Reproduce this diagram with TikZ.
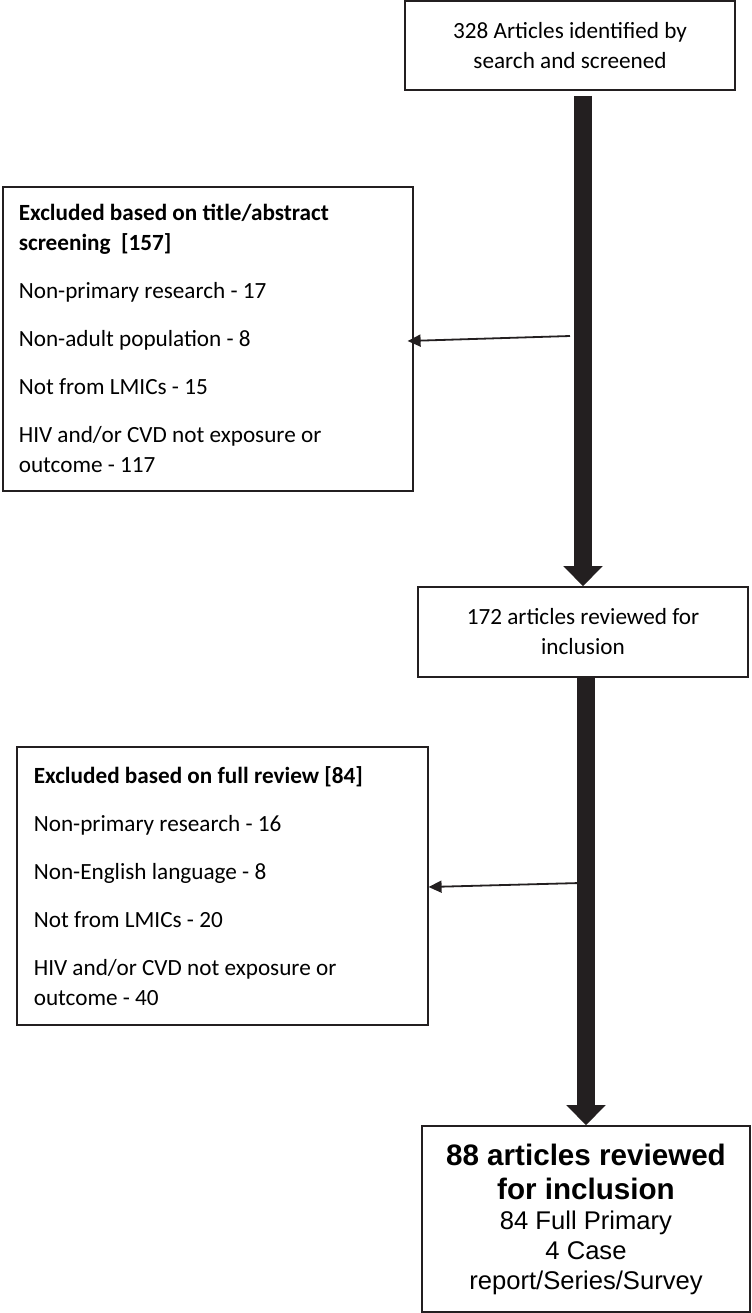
\documentclass[tikz,border=0pt]{standalone}
\usepackage{fontspec}
\setmainfont{Carlito}
\newfontfamily\arialfont{Liberation Sans}
\usetikzlibrary{arrows.meta,calc}
\definecolor{ink}{HTML}{231F20}

\begin{document}
\begin{tikzpicture}[x=.5pt,y=-.5pt,
 box/.style={draw=ink,line width=.8pt,font=\fontsize{11.6}{15}\selectfont,inner sep=0pt},
 listbox/.style={box,align=flush left,anchor=north west},
 bigarrow/.style={ink,line width=9pt,-{Triangle[width=19pt,length=10pt]}},
 thinarrow/.style={ink,line width=.9pt,-{Triangle[width=6pt,length=6.5pt]}}]
\useasboundingbox (0,0) rectangle (751,1313);
\node[box,align=center,minimum width=165pt,minimum height=44.5pt] (ident) at (570,45.5) {328 Articles identified by\\search and screened};
\node[listbox,text width=189pt,inner xsep=8pt,minimum height=152pt] (excl1) at (2,186) {\textbf{Excluded based on title/abstract}\\\textbf{screening~~[157]}\\[9pt]Non-primary research - 17\\[9pt]Non-adult population - 8\\[9pt]Not from LMICs - 15\\[9pt]HIV and/or CVD not exposure or\\outcome - 117};
\node[box,align=center,minimum width=165pt,minimum height=45pt] (review) at (583,632) {172 articles reviewed for\\inclusion};
\node[listbox,text width=188.5pt,inner xsep=8.5pt,minimum height=139pt] (excl2) at (16,746) {\textbf{Excluded based on full review [84]}\\[9pt]Non-primary research - 16\\[9pt]Non-English language - 8\\[9pt]Not from LMICs - 20\\[9pt]HIV and/or CVD not exposure or\\outcome - 40};
\node[box,align=center,minimum width=164pt,minimum height=93pt,font=\arialfont\fontsize{12.8}{15}\selectfont] (final) at (586,1219) {\textbf{\fontsize{14.8}{17.5}\selectfont 88 articles reviewed}\\[2pt]\textbf{\fontsize{14.8}{17.5}\selectfont for inclusion}\\84 Full Primary\\4 Case\\report/Series/Survey};
\draw[bigarrow] ($(review.north|-ident.south)+(0,5)$) -- (review.north);
\draw[bigarrow] (review.south-|final.north) -- (final.north);
\coordinate (c1) at (570,336);
\draw[thinarrow] (c1) -- ($(c1-|excl1.east)+(-6,5)$);
\coordinate (c2) at (580,883);
\draw[thinarrow] (c2) -- ($(c2-|excl2.east)+(0,4)$);
\end{tikzpicture}
\end{document}
